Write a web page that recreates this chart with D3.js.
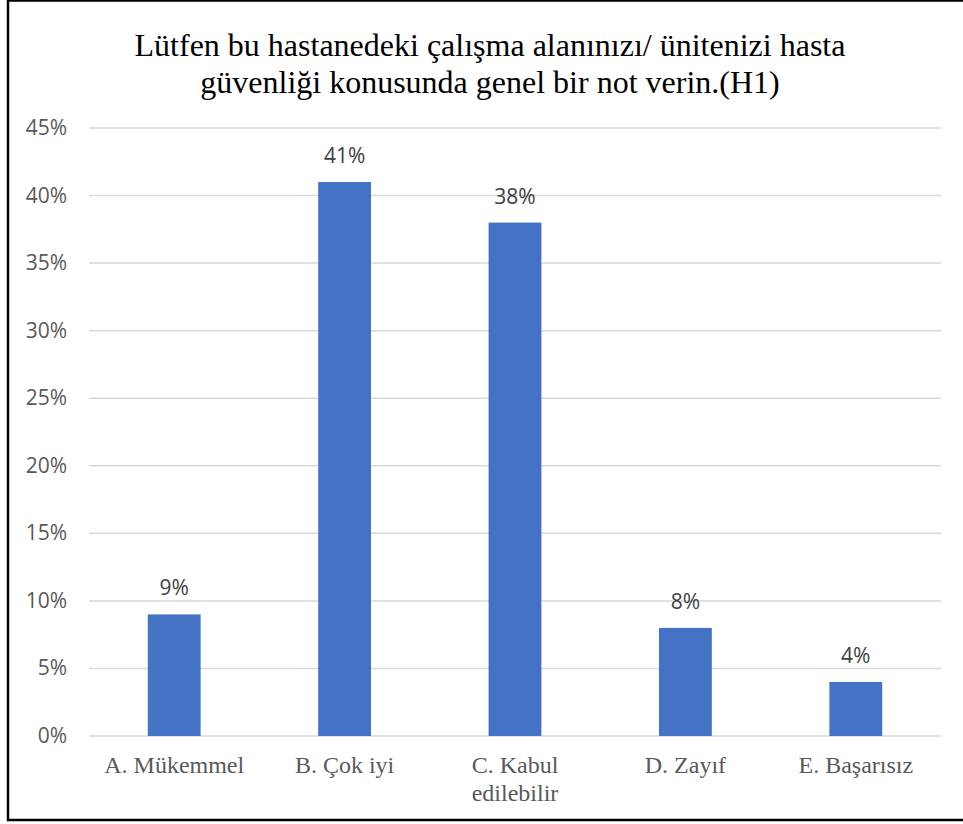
<!DOCTYPE html>
<html>
<head>
<meta charset="utf-8">
<script src="https://cdn.jsdelivr.net/npm/d3@7"></script>
<style>
  body { margin: 0; background: #fff; }
</style>
</head>
<body>
<div id="chart"></div>
<script>
const categories = ["A. Mükemmel", "B. Çok iyi", "C. Kabul edilebilir", "D. Zayıf", "E. Başarısız"];
const values = [9, 41, 38, 8, 4];
const yTicks = [0, 5, 10, 15, 20, 25, 30, 35, 40, 45];
const titleLines = ["Lütfen bu hastanedeki çalışma alanınızı/ ünitenizi hasta", "güvenliği konusunda genel bir not verin.(H1)"];

const width = 963;
const height = 824;
const margin = { top: 128, right: 22, bottom: 88, left: 89 };
const serif = "Liberation Serif";
const sans = "Open Sans";

const svg = d3.select("#chart")
  .append("svg")
  .attr("width", width)
  .attr("height", height);

svg.append("rect")
  .attr("width", width).attr("height", height)
  .attr("fill", "#fff");

// outer frame
svg.append("rect")
  .attr("x", 8).attr("y", 0.5)
  .attr("width", 962).attr("height", 819.5)
  .attr("fill", "none")
  .attr("stroke", "#000")
  .attr("stroke-width", 2.5);

const x = d3.scaleBand()
  .domain(categories)
  .range([margin.left, width - margin.right])
  .paddingInner(0.69)
  .paddingOuter(0.345);

const y = d3.scaleLinear()
  .domain([0, 45])
  .range([height - margin.bottom, margin.top]);

// gridlines
svg.append("g")
  .selectAll("line")
  .data(yTicks)
  .enter()
  .append("line")
  .attr("x1", margin.left)
  .attr("x2", width - margin.right)
  .attr("y1", d => y(d))
  .attr("y2", d => y(d))
  .attr("stroke", "#d9d9d9")
  .attr("stroke-width", 1.5);

// y labels
svg.append("g")
  .selectAll("text")
  .data(yTicks)
  .enter()
  .append("text")
  .attr("x", 67)
  .attr("y", d => y(d) + 7)
  .attr("text-anchor", "end")
  .style("font-family", sans)
  .style("font-size", "21px")
  .attr("fill", "#595959")
  .text(d => d + "%");

// bars
svg.append("g")
  .selectAll("rect")
  .data(values)
  .enter()
  .append("rect")
  .attr("x", (d, i) => x(categories[i]))
  .attr("y", d => y(d))
  .attr("width", x.bandwidth())
  .attr("height", d => y(0) - y(d))
  .attr("fill", "#4472c4");

// data labels
svg.append("g")
  .selectAll("text")
  .data(values)
  .enter()
  .append("text")
  .attr("x", (d, i) => x(categories[i]) + x.bandwidth() / 2)
  .attr("y", d => y(d) - 19)
  .attr("text-anchor", "middle")
  .style("font-family", sans)
  .style("font-size", "21px")
  .attr("fill", "#404040")
  .text(d => d + "%");

// x labels
const xl = svg.append("g")
  .selectAll("text")
  .data(categories)
  .enter()
  .append("text")
  .attr("x", d => x(d) + x.bandwidth() / 2)
  .attr("y", y(0) + 37)
  .attr("text-anchor", "middle")
  .style("font-family", serif)
  .style("font-size", "24px")
  .attr("fill", "#595959");

xl.each(function(d) {
  const parts = d === "C. Kabul edilebilir" ? ["C. Kabul", "edilebilir"] : [d];
  const t = d3.select(this);
  parts.forEach((p, i) => {
    t.append("tspan")
      .attr("x", x(d) + x.bandwidth() / 2)
      .attr("dy", i === 0 ? 0 : 28)
      .text(p);
  });
});

// title
svg.append("text")
  .attr("x", 490)
  .attr("y", 56)
  .attr("text-anchor", "middle")
  .style("font-family", serif)
  .style("font-size", "32px")
  .attr("fill", "#000")
  .selectAll("tspan")
  .data(titleLines)
  .enter()
  .append("tspan")
  .attr("x", 490)
  .attr("dy", (d, i) => i === 0 ? 0 : 37)
  .text(d => d);
</script>
</body>
</html>
